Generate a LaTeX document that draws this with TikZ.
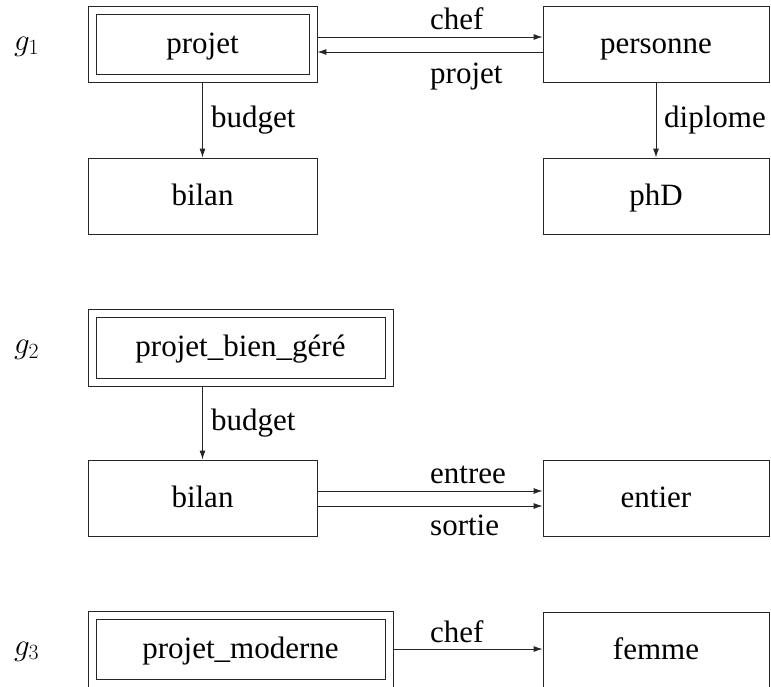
\RequirePackage{fix-cm}
\documentclass[tikz,border=0pt]{standalone}
\usepackage{fontspec}
\setmainfont{Liberation Serif}
\usetikzlibrary{arrows.meta}

\tikzset{
  big/.style={font=\fontsize{31}{37}\selectfont},
  box/.style={big, draw=black!85, line width=0.9pt, rectangle, inner sep=0pt,
    text height=24pt, text depth=6pt,
    minimum width=229pt, minimum height=76pt},
  % framed box with a second rectangle drawn 8pt inside the outer one
  dbox/.style={box, path picture={
      \draw[draw=black!85, line width=0.9pt]
        ([shift={(8pt,-8pt)}]path picture bounding box.north west) rectangle
        ([shift={(-8pt,8pt)}]path picture bounding box.south east);}},
  lbl/.style={big, inner sep=0pt, anchor=base west},
  arr/.style={draw=black!85, line width=0.9pt, -{Latex[length=9pt,width=6pt]}},
}

\begin{document}
\begin{tikzpicture}[x=1pt, y=-1pt]
  \useasboundingbox (0,0) rectangle (771,686);
  \clip (0,0) rectangle (771,686);

  % ---- g1 ----
  \node[lbl] (g1) at (14,50) {$g_1$};
  \node[dbox] (projet) at (202.5,44) {projet};
  \node[box, minimum width=226pt] (personne) at (656,44) {personne};
  \node[box] (bilanA) at (202.5,196) {bilan};
  \node[box, minimum width=226pt] (phd) at (656,196) {phD};

  \draw[arr] ([yshift=7pt]projet.east) -- ([yshift=7pt]personne.west);
  \draw[arr] ([yshift=-8pt]personne.west) -- ([yshift=-8pt]projet.east);
  \draw[arr] (projet.south) -- (bilanA.north);
  \draw[arr] (personne.south) -- (phd.north);

  \node[lbl] (chefA) at (430,29) {chef};
  \node[lbl] (projetlbl) at (430,83) {projet};
  \node[lbl] (budgetA) at (211,127) {budget};
  \node[lbl] (diplome) at (664,127) {diplome};

  % ---- g2 ----
  \node[lbl] (g2) at (14,353.5) {$g_2$};
  \node[dbox, minimum width=305pt, minimum height=77pt] (pbg) at (240.5,347.5) {projet\_bien\_géré};
  \node[box] (bilanB) at (202.5,498) {bilan};
  \node[box, minimum width=226pt] (entier) at (656,498) {entier};

  \draw[arr] (pbg.south -| bilanB.north) -- (bilanB.north);
  \draw[arr] ([yshift=7pt]bilanB.east) -- ([yshift=7pt]entier.west);
  \draw[arr] ([yshift=-8pt]bilanB.east) -- ([yshift=-8pt]entier.west);

  \node[lbl] (budgetB) at (211,430) {budget};
  \node[lbl] (entree) at (430,483) {entree};
  \node[lbl] (sortie) at (430,535) {sortie};

  % ---- g3 ----
  \node[lbl] (g3) at (14,655) {$g_3$};
  \node[dbox, minimum width=305pt, minimum height=76pt] (pm) at (240.5,649) {projet\_moderne};
  \node[box, minimum width=226pt] (femme) at (656,650) {femme};

  \draw[arr] (pm.east) -- (femme.west |- pm.east);
  \node[lbl] (chefB) at (430,642) {chef};
\end{tikzpicture}
\end{document}
